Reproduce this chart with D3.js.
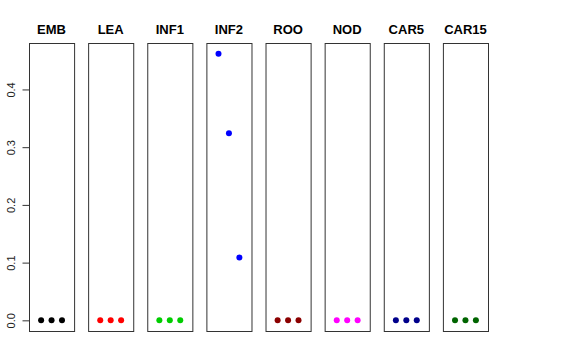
<!DOCTYPE html>
<html>
<head>
<meta charset="utf-8">
<script src="https://cdn.jsdelivr.net/npm/d3@7"></script>
<style>
  body { margin: 0; background: #fff; }
  svg { font-family: "Liberation Sans", Arial, sans-serif; }
</style>
</head>
<body>
<svg id="chart" width="576" height="360"></svg>
<script>
'use strict';

// panels, one per tissue
var tissues = ['EMB', 'LEA', 'INF1', 'INF2', 'ROO', 'NOD', 'CAR5', 'CAR15'];
var colors = ['#000000', '#ff0000', '#00cd00', '#0000ff', '#8b0000', '#ff00ff', '#00008b', '#006400'];
// three values per panel
var values = [
  [0, 0, 0],
  [0, 0, 0],
  [0, 0, 0],
  [0.462, 0.324, 0.109],
  [0, 0, 0],
  [0, 0, 0],
  [0, 0, 0],
  [0, 0, 0]
];
var yTicks = [0, 0.1, 0.2, 0.3, 0.4];

var svg = d3.select('#chart');
var plotTop = 43, plotBottom = 331;

var ymax = d3.max(values, function (v) { return d3.max(v); });
var y = d3.scaleLinear()
  .domain([-0.04 * ymax, 1.04 * ymax])
  .range([plotBottom, plotTop]);

var panel = d3.scaleBand()
  .domain(tissues)
  .range([29, 488])
  .paddingInner(14 / 59);

tissues.forEach(function (t, i) {
  var x0 = panel(t);
  var x = d3.scaleLinear().domain([-0.16, 4.16]).range([x0, x0 + panel.bandwidth()]);
  var g = svg.append('g');

  g.append('rect')
    .attr('x', x0 + 0.5)
    .attr('y', plotTop + 0.5)
    .attr('width', panel.bandwidth())
    .attr('height', plotBottom - plotTop)
    .attr('fill', 'none')
    .attr('stroke', '#333')
    .attr('stroke-width', 1);

  g.append('text')
    .attr('x', x0 + panel.bandwidth() / 2)
    .attr('y', 34)
    .attr('text-anchor', 'middle')
    .attr('font-size', '13px')
    .attr('font-weight', 'bold')
    .text(t);

  g.selectAll('circle')
    .data(values[i])
    .enter().append('circle')
    .attr('cx', function (d, j) { return x(j + 1); })
    .attr('cy', function (d) { return y(d); })
    .attr('r', 3)
    .attr('fill', colors[i]);
});

// left axis, R style: rotated labels
var axis = d3.axisLeft(y)
  .tickValues(yTicks)
  .tickFormat(d3.format('.1f'))
  .tickSize(7)
  .tickSizeOuter(0);

var ag = svg.append('g')
  .attr('transform', 'translate(29.5,0)')
  .call(axis);
ag.select('.domain')
  .attr('d', 'M0,' + y(0) + 'V' + y(0.4))
  .attr('stroke', '#333');
ag.selectAll('.tick line').attr('stroke', '#333');
ag.selectAll('.tick text')
  .attr('font-size', '11px')
  .attr('font-family', '"Liberation Sans", Arial, sans-serif')
  .attr('fill', '#222')
  .attr('x', null)
  .attr('dy', null)
  .attr('text-anchor', 'middle')
  .attr('transform', 'translate(-15,0) rotate(-90)');
</script>
</body>
</html>
